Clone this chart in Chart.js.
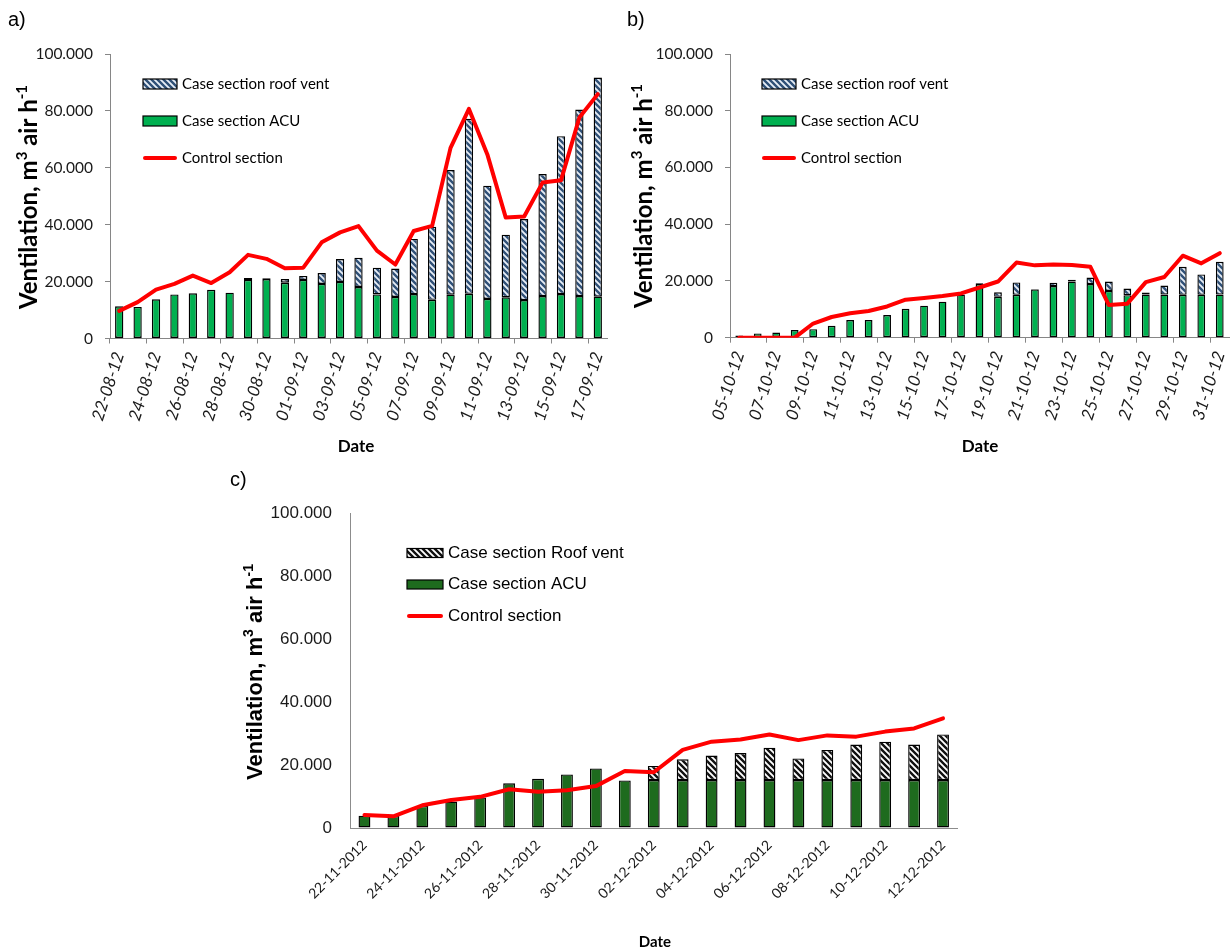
<!DOCTYPE html>
<html>
<head>
<meta charset="utf-8">
<script src="https://cdn.jsdelivr.net/npm/chart.js@4.4.1/dist/chart.umd.min.js"></script>
<style>
  html, body { margin: 0; padding: 0; background: #fff; width: 1231px; height: 951px; overflow: hidden; }
  canvas { position: absolute; left: 0; top: 0; }
</style>
</head>
<body>
<canvas id="chartA" width="1231" height="951"></canvas>
<canvas id="chartB" width="1231" height="951"></canvas>
<canvas id="chartC" width="1231" height="951"></canvas>
<script>
// ---- Ventilation data, m3 air per hour ----
const datesA = ['22-08-12','23-08-12','24-08-12','25-08-12','26-08-12','27-08-12','28-08-12','29-08-12','30-08-12','31-08-12',
  '01-09-12','02-09-12','03-09-12','04-09-12','05-09-12','06-09-12','07-09-12','08-09-12','09-09-12','10-09-12',
  '11-09-12','12-09-12','13-09-12','14-09-12','15-09-12','16-09-12','17-09-12'];
const acuA  = [11300, 11100, 13800, 15500, 15900, 17100, 16100, 20600, 20900, 19600, 20600, 19200, 19900, 18100,
  15500, 14600, 15600, 13600, 15400, 15700, 13900, 14500, 13500, 14900, 15600, 14900, 14700];
const roofA = [0, 0, 0, 0, 0, 0, 0, 700, 300, 1300, 1400, 3800, 8000, 10300,
  9400, 10000, 19400, 25700, 43800, 61500, 39800, 22000, 28500, 42900, 55500, 65600, 77000];
const ctrlA = [9700, 12800, 17200, 19200, 22100, 19500, 23300, 29400, 28000, 24700, 24900, 33800, 37300, 39500,
  30900, 26000, 37800, 39600, 67000, 80700, 64700, 42500, 42900, 54800, 55600, 77700, 85900];

const datesB = ['05-10-12','06-10-12','07-10-12','08-10-12','09-10-12','10-10-12','11-10-12','12-10-12','13-10-12','14-10-12',
  '15-10-12','16-10-12','17-10-12','18-10-12','19-10-12','20-10-12','21-10-12','22-10-12','23-10-12','24-10-12',
  '25-10-12','26-10-12','27-10-12','28-10-12','29-10-12','30-10-12','31-10-12'];
const acuB  = [800, 1500, 1800, 2700, 3000, 4200, 6200, 6200, 8000, 10200, 11300, 12700, 15200, 19000,
  14400, 15100, 17000, 18200, 19800, 18900, 16500, 15000, 15200, 15200, 15100, 15100, 15200];
const roofB = [0, 0, 0, 0, 0, 0, 0, 0, 0, 0, 0, 0, 0, 300,
  1600, 4400, 200, 1200, 600, 2300, 3300, 2300, 700, 3200, 9900, 7200, 11600];
const ctrlB = [0, 0, 0, 0, 5000, 7300, 8600, 9400, 11000, 13400, 14000, 14700, 15600, 17700,
  19800, 26500, 25500, 25800, 25600, 25000, 11500, 12000, 19600, 21400, 28900, 26200, 29800];

const datesC = ['22-11-2012','23-11-2012','24-11-2012','25-11-2012','26-11-2012','27-11-2012','28-11-2012','29-11-2012',
  '30-11-2012','01-12-2012','02-12-2012','03-12-2012','04-12-2012','05-12-2012','06-12-2012','07-12-2012',
  '08-12-2012','09-12-2012','10-12-2012','11-12-2012','12-12-2012'];
const acuC  = [3900, 3800, 7000, 8400, 9700, 14200, 15600, 17000, 18900, 15100, 15200,
  15200, 15200, 15200, 15200, 15200, 15200, 15200, 15200, 15200, 15200];
const roofC = [0, 0, 0, 0, 0, 0, 0, 0, 0, 0, 4500,
  6600, 7800, 8600, 10300, 6900, 9600, 11300, 12200, 11300, 14500];
const ctrlC = [4100, 3700, 7200, 8900, 9900, 12300, 11500, 12000, 13300, 18100, 17700,
  24800, 27400, 28100, 29700, 27900, 29400, 29000, 30600, 31600, 34800];

const yTicks = [0, 20000, 40000, 60000, 80000, 100000];

// ---- styling helpers ----
const RED = '#ff0000';
const AXIS = '#868686';

function hatch(bg, fg, size, lw) {
  const c = document.createElement('canvas');
  c.width = c.height = size;
  const g = c.getContext('2d');
  g.fillStyle = bg;
  g.fillRect(0, 0, size, size);
  g.strokeStyle = fg;
  g.lineWidth = lw;
  g.beginPath();
  g.moveTo(-1, -1); g.lineTo(size + 1, size + 1);
  g.moveTo(-size / 2 - 1, size / 2 - 1); g.lineTo(size / 2 + 1, size * 1.5 + 1);
  g.moveTo(size / 2 - 1, -size / 2 - 1); g.lineTo(size * 1.5 + 1, size / 2 + 1);
  g.stroke();
  return g.createPattern(c, 'repeat');
}

// titles, panel letter and legend drawn on top of each chart
const decor = {
  id: 'decor',
  afterDraw(chart, _args, o) {
    const g = chart.ctx;
    g.save();
    g.fillStyle = '#000';
    g.textAlign = 'left';
    g.textBaseline = 'middle';
    g.font = o.letter.font;
    g.fillText(o.letter.text, o.letter.x, o.letter.y);

    g.textAlign = 'center';
    g.font = o.xTitle.font;
    g.fillText(o.xTitle.text, o.xTitle.x, o.xTitle.y);

    // vertical axis title with superscripts
    const yt = o.yTitle;
    const big = `bold ${yt.size}px ${yt.family}`;
    const small = `bold ${Math.round(yt.size * 0.62)}px ${yt.family}`;
    let total = 0;
    yt.parts.forEach(([t, sup]) => { g.font = sup ? small : big; total += g.measureText(t).width; });
    g.save();
    g.translate(yt.x, yt.y);
    g.rotate(-Math.PI / 2);
    g.textAlign = 'left';
    g.textBaseline = 'alphabetic';
    let cx = -total / 2;
    yt.parts.forEach(([t, sup]) => {
      g.font = sup ? small : big;
      g.fillText(t, cx, sup ? -yt.size * 0.4 : 0);
      cx += g.measureText(t).width;
    });
    g.restore();

    // legend
    const lg = o.legend;
    lg.items.forEach((idx, k) => {
      const ds = chart.data.datasets[idx];
      const y = lg.y0 + k * lg.dy;
      if (ds.type === 'line') {
        g.strokeStyle = ds.borderColor;
        g.lineWidth = 4;
        g.lineCap = 'round';
        g.beginPath();
        g.moveTo(lg.x + 2, y);
        g.lineTo(lg.x + lg.w - 2, y);
        g.stroke();
      } else {
        g.fillStyle = ds.backgroundColor;
        g.fillRect(lg.x, y - lg.h / 2, lg.w, lg.h);
        g.strokeStyle = '#000';
        g.lineWidth = 1.2;
        g.strokeRect(lg.x, y - lg.h / 2, lg.w, lg.h);
      }
      g.fillStyle = '#000';
      g.font = lg.font;
      g.textAlign = 'left';
      g.textBaseline = 'middle';
      g.fillText(ds.label, lg.x + lg.w + lg.gap, y);
    });
    g.restore();
  }
};

function buildChart(id, p) {
  return new Chart(document.getElementById(id), {
    type: 'bar',
    data: {
      labels: p.labels,
      datasets: [
        { type: 'line', label: 'Control section', data: p.control, borderColor: RED, backgroundColor: RED,
          borderWidth: 4, pointRadius: 0, tension: 0, fill: false, order: 0, stack: 'ctrl',
          borderJoinStyle: 'round', borderCapStyle: 'round' },
        { label: p.acuLabel, data: p.acu, backgroundColor: p.acuColor, borderColor: '#000', borderWidth: 1.4,
          borderSkipped: false, stack: 'case', order: 1, barPercentage: p.barPct, categoryPercentage: 1 },
        { label: p.roofLabel, data: p.roof, backgroundColor: p.roofFill, borderColor: '#000', borderWidth: 1.4,
          borderSkipped: false, stack: 'case', order: 2, barPercentage: p.barPct, categoryPercentage: 1 }
      ]
    },
    options: {
      responsive: false,
      animation: false,
      events: [],
      layout: { padding: { left: 0, top: p.area.top, right: 1231 - p.area.right, bottom: 0 } },
      scales: {
        x: {
          stacked: true,
          offset: true,
          afterFit: s => { s.height = 951 - p.area.bottom; s.paddingLeft = 0; s.paddingRight = 0; },
          ticks: {
            autoSkip: false, maxRotation: p.rot, minRotation: p.rot, padding: p.xPad, color: '#1a1a1a',
            font: p.xFont,
            callback: function (v, i) { return i % 2 === 0 ? this.getLabelForValue(v) : ''; }
          },
          grid: {
            offset: true, drawOnChartArea: false, drawTicks: p.xTickMarks, tickLength: 5,
            color: c => (c.index % 2 === 0 ? p.axis : 'rgba(0,0,0,0)')
          },
          border: { color: p.axis, width: 1 }
        },
        y: {
          stacked: true,
          min: 0, max: 100000,
          afterFit: s => { s.width = p.area.left; },
          afterBuildTicks: s => { s.ticks = yTicks.map(v => ({ value: v })); },
          ticks: {
            padding: p.yPad, color: '#1a1a1a', font: p.yFont,
            callback: v => (v === 0 ? '0' : (v / 1000).toFixed(3))
          },
          grid: { drawOnChartArea: false, drawTicks: p.yTickMarks, tickLength: 5, color: p.axis },
          border: { color: p.axis, width: 1 }
        }
      },
      plugins: {
        legend: { display: false },
        tooltip: { enabled: false },
        decor: p.decor
      }
    },
    plugins: [decor]
  });
}

const blueHatch = hatch('#e8eef6', '#2f5077', 6, 2.4);
const blackHatch = hatch('#ffffff', '#111111', 6, 2.4);
const yParts = [['Ventilation, m', false], ['3', true], [' air h', false], ['-1', true]];

buildChart('chartA', {
  labels: datesA, acu: acuA, roof: roofA, control: ctrlA,
  acuLabel: 'Case section ACU', roofLabel: 'Case section roof vent',
  acuColor: '#00b050', roofFill: blueHatch, barPct: 0.45,
  area: { left: 110, right: 607, top: 54, bottom: 338.5 },
  rot: 72, xPad: 6, xTickMarks: true, yTickMarks: true, yPad: 12, axis: AXIS,
  xFont: { family: 'Lato', size: 17, style: 'italic' },
  yFont: { family: 'Lato', size: 15.5 },
  decor: {
    letter: { text: 'a)', x: 8, y: 20, font: '20px "Liberation Sans"' },
    xTitle: { text: 'Date', x: 356, y: 447, font: 'bold 17px Lato' },
    yTitle: { parts: yParts, x: 37, y: 197, size: 24, family: 'Lato' },
    legend: { items: [2, 1, 0], x: 143, y0: 84, dy: 37, w: 34, h: 10, gap: 5, font: '15px Lato' }
  }
});

buildChart('chartB', {
  labels: datesB, acu: acuB, roof: roofB, control: ctrlB,
  acuLabel: 'Case section ACU', roofLabel: 'Case section roof vent',
  acuColor: '#00b050', roofFill: blueHatch, barPct: 0.42,
  area: { left: 730, right: 1229, top: 54, bottom: 337.7 },
  rot: 72, xPad: 6, xTickMarks: true, yTickMarks: true, yPad: 12, axis: AXIS,
  xFont: { family: 'Lato', size: 17, style: 'italic' },
  yFont: { family: 'Lato', size: 15.5 },
  decor: {
    letter: { text: 'b)', x: 627, y: 20, font: '20px "Liberation Sans"' },
    xTitle: { text: 'Date', x: 980, y: 447, font: 'bold 17px Lato' },
    yTitle: { parts: yParts, x: 652, y: 196, size: 24, family: 'Lato' },
    legend: { items: [2, 1, 0], x: 762, y0: 84, dy: 37, w: 34, h: 10, gap: 5, font: '15px Lato' }
  }
});

buildChart('chartC', {
  labels: datesC, acu: acuC, roof: roofC, control: ctrlC,
  acuLabel: 'Case section ACU', roofLabel: 'Case section Roof vent',
  acuColor: '#1e6b1e', roofFill: blackHatch, barPct: 0.41,
  area: { left: 350, right: 957.5, top: 513, bottom: 828 },
  rot: 45, xPad: 9, xTickMarks: false, yTickMarks: false, yPad: 18, axis: '#8c8c8c',
  xFont: { family: 'Lato', size: 14 },
  yFont: { family: 'Liberation Sans', size: 17 },
  decor: {
    letter: { text: 'c)', x: 230, y: 480, font: '20px "Liberation Sans"' },
    xTitle: { text: 'Date', x: 655, y: 942, font: 'bold 15px Lato' },
    yTitle: { parts: yParts, x: 262, y: 672, size: 22, family: '"Liberation Sans"' },
    legend: { items: [2, 1, 0], x: 407, y0: 553, dy: 31.5, w: 36, h: 9, gap: 5, font: '17px "Liberation Sans"' }
  }
});
</script>
</body>
</html>
